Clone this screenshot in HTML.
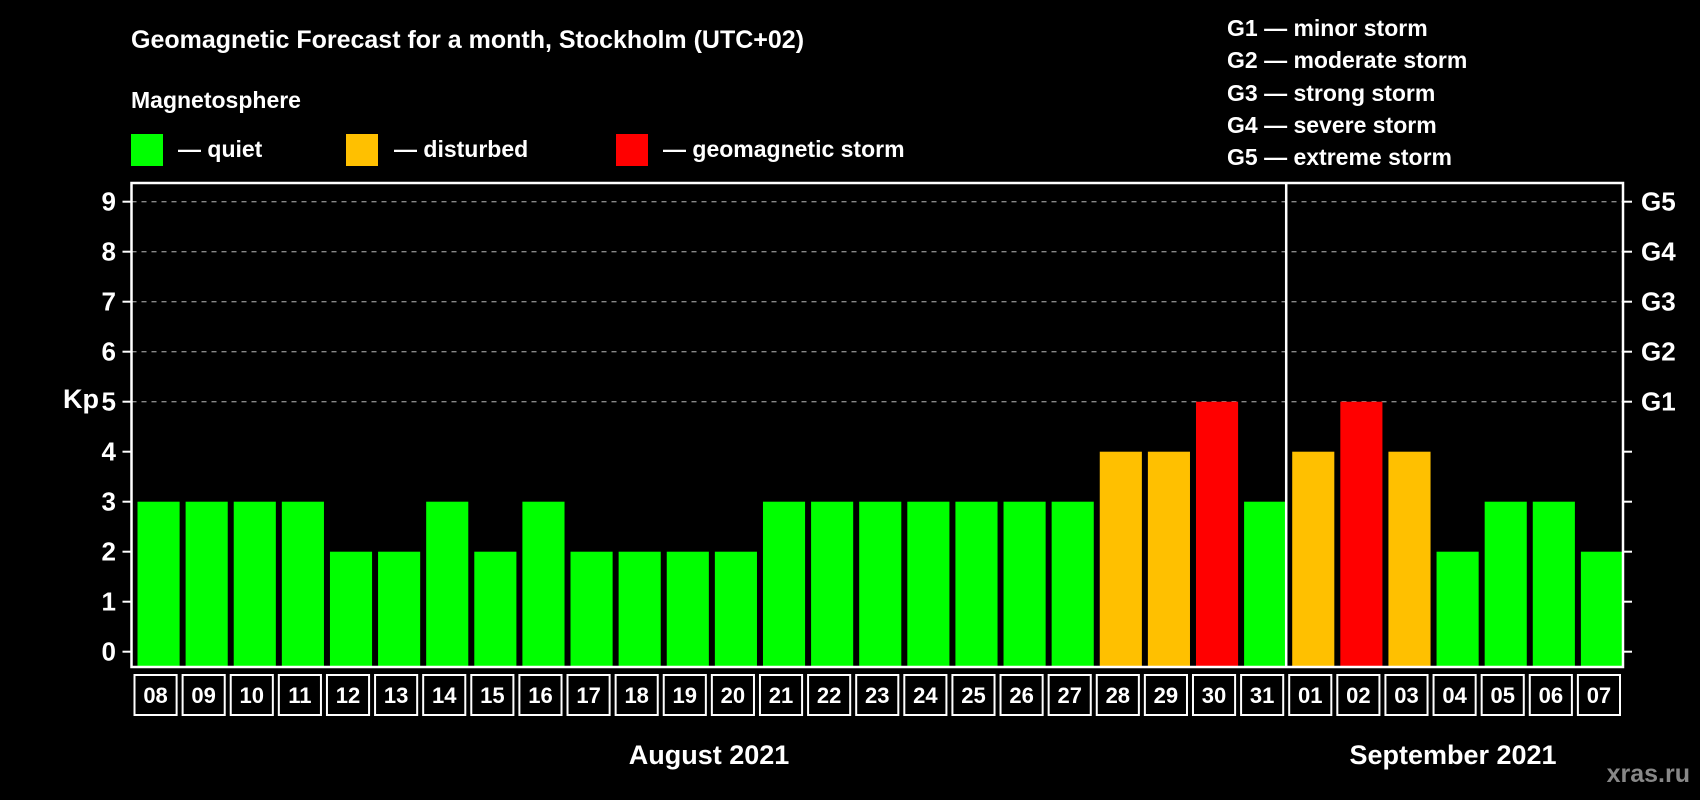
<!DOCTYPE html>
<html><head><meta charset="utf-8"><style>
html,body{margin:0;padding:0;background:#000;}
svg{display:block;font-family:"Liberation Sans",Arial,sans-serif;font-weight:bold;}
</style></head><body>
<svg id="chart" width="1700" height="800" viewBox="0 0 1700 800" xmlns="http://www.w3.org/2000/svg">
<rect width="1700" height="800" fill="#000"/>
<text x="131" y="48" fill="#fff" font-size="25">Geomagnetic Forecast for a month, Stockholm (UTC+02)</text>
<text x="131" y="108" fill="#fff" font-size="23">Magnetosphere</text>
<rect x="131" y="134" width="32" height="32" fill="#00ff00"/>
<text x="178" y="157" fill="#fff" font-size="23">— quiet</text>
<rect x="346" y="134" width="32" height="32" fill="#ffc000"/>
<text x="394" y="157" fill="#fff" font-size="23">— disturbed</text>
<rect x="616" y="134" width="32" height="32" fill="#ff0000"/>
<text x="663" y="157" fill="#fff" font-size="23">— geomagnetic storm</text>
<g font-size="23" fill="#fff">
<text x="1227" y="36">G1 — minor storm</text>
<text x="1227" y="68">G2 — moderate storm</text>
<text x="1227" y="101">G3 — strong storm</text>
<text x="1227" y="133">G4 — severe storm</text>
<text x="1227" y="165">G5 — extreme storm</text>
</g>
<text x="63" y="408" fill="#fff" font-size="27">Kp</text>
<g id="plot"></g>
<text x="709" y="764" fill="#fff" font-size="27" text-anchor="middle">August 2021</text>
<text x="1453" y="764" fill="#fff" font-size="27" text-anchor="middle">September 2021</text>
<text x="1690" y="782" fill="#888" font-size="25" text-anchor="end">xras.ru</text>
</svg>
<script>
const days = ["08","09","10","11","12","13","14","15","16","17","18","19","20","21","22","23","24","25","26","27","28","29","30","31","01","02","03","04","05","06","07"];
const kpValues = [3,3,3,3,2,2,3,2,3,2,2,2,2,3,3,3,3,3,3,3,4,4,5,3,4,5,4,2,3,3,2];
const yTicks = [0,1,2,3,4,5,6,7,8,9];
const gLevels = ["G1","G2","G3","G4","G5"];
const gValues = [5,6,7,8,9];
const monthBreakIndex = 24;

const NS="http://www.w3.org/2000/svg";
const g=document.getElementById('plot');
const L=131.5,R=1623,T=183,B=667;
const y0=651.7,unit=50;
const yS=v=>y0-v*unit;
const cw=(R-L)/days.length;
const xS=i=>L+i*cw;
function mk(t,a){const e=document.createElementNS(NS,t);for(const k in a)e.setAttribute(k,a[k]);g.appendChild(e);return e;}
function col(v){return v>=5?"#ff0000":v>=4?"#ffc000":"#00ff00";}
// grid
gValues.forEach(v=>{
  const e=mk('line',{x1:L,x2:R,y1:yS(v),y2:yS(v),stroke:"#888","stroke-width":1.3,"stroke-dasharray":"5,5"});
  
  
});
// bars
kpValues.forEach((v,i)=>{
  const e=mk('rect',{x:xS(i)+6,y:yS(v),width:cw-6,height:B-yS(v),fill:col(v)});
  
  
  const bx=mk('rect',{x:xS(i)+3,y:675,width:cw-6,height:40,fill:"none",stroke:"#fff","stroke-width":2});
  
  
  const t=mk('text',{x:xS(i)+cw/2,y:703,fill:"#fff","font-size":22,"text-anchor":"middle"});
  t.textContent=days[i];
  
  
});
// frame
const fr=mk('rect',{x:L,y:T,width:R-L,height:B-T,fill:"none",stroke:"#fff","stroke-width":2.5});


const ml=mk('line',{x1:xS(monthBreakIndex),x2:xS(monthBreakIndex),y1:T,y2:B,stroke:"#fff","stroke-width":2.5});


// ticks
yTicks.forEach(v=>{
  const a=mk('line',{x1:L-9,x2:L,y1:yS(v),y2:yS(v),stroke:"#fff","stroke-width":2});
  
  
  const b=mk('line',{x1:R,x2:R+9,y1:yS(v),y2:yS(v),stroke:"#fff","stroke-width":2});
  
  
  const t=mk('text',{x:116,y:yS(v)+9,fill:"#fff","font-size":26,"text-anchor":"end"});
  t.textContent=v;
  
  
});
gLevels.forEach((s,i)=>{
  const t=mk('text',{x:1641,y:yS(gValues[i])+9,fill:"#fff","font-size":26});
  t.textContent=s;
  
  
});
</script>
</body></html>
